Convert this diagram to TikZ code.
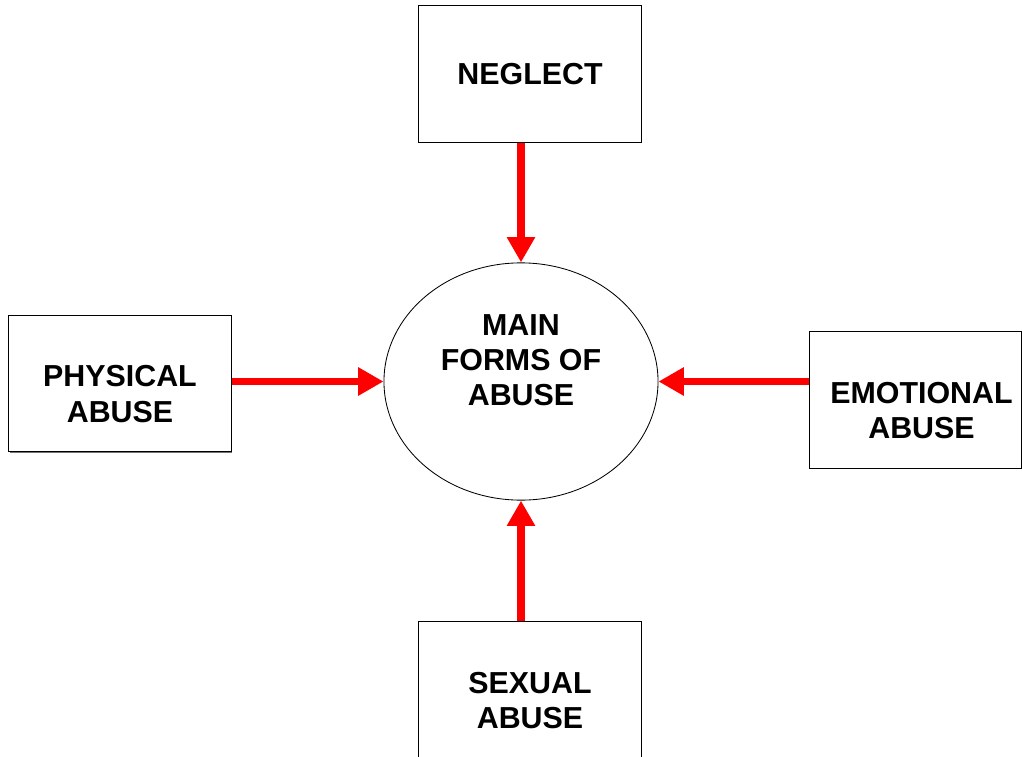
\documentclass[tikz,border=0pt]{standalone}
\usepackage{fontspec}
\setmainfont{Liberation Sans}
\usetikzlibrary{arrows.meta,shapes.geometric,shadows}
% two centred lines, drawn a little below the middle of the box
\newcommand{\twolines}[2]{\raisebox{-0.35cm}[\height][\depth]{\begin{tabular}{@{}c@{}}#1\\#2\end{tabular}}}
\begin{document}
\begin{tikzpicture}
		[x=0.025cm, y=-0.025cm,
		every node/.style={inner sep=1pt, align=center, font=\fontsize{21.6}{25}\selectfont\bfseries},
		formbox/.style={rectangle, draw, line width=0.7pt, fill=white, minimum width=5.55cm, minimum height=3.4cm,
			drop shadow={shadow xshift=0.5pt, shadow yshift=-0.8pt, fill=black!55, opacity=1}},
		redarrow/.style={-{Triangle[length=18pt, width=19pt]}, red, line width=5.6pt}]
		\useasboundingbox (0,0) rectangle (1022,757);
		\node[ellipse, draw, line width=0.6pt, inner sep=0pt, minimum width=6.85cm, minimum height=5.93cm] (main) at (521,381.5) {};
		\node at (521,360) {\fontsize{21.6}{26.5}\selectfont MAIN\\FORMS OF\\ABUSE};
		
		\node[formbox] (neglect) at (530,74) {NEGLECT};
		\node[formbox] (phys) at (120,383.5) {\twolines{PHYSICAL}{ABUSE}};
		\node[formbox, minimum width=5.275cm] (emo) at (915.5,400) {\hspace*{0.3cm}\twolines{EMOTIONAL}{ABUSE}};
		\node[formbox] (sex) at (530,690) {\twolines{SEXUAL}{ABUSE}};
		
		\draw[redarrow] (neglect.south -| main) -- (main.north);
		\draw[redarrow] (phys.east |- main) -- (main.west);
		\draw[redarrow] (emo.west |- main) -- (main.east);
		\draw[redarrow] (sex.north -| main) -- (main.south);
		\end{tikzpicture}
\end{document}
